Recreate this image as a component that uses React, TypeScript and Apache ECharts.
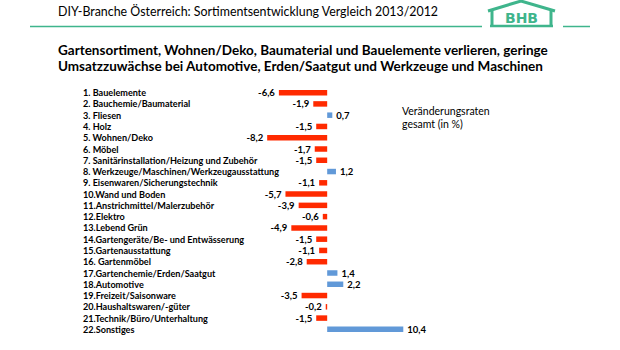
import React, { useEffect, useRef } from "react";
import * as echarts from "echarts";

const categories: string[] = [
  "1. Bauelemente",
  "2. Bauchemie/Baumaterial",
  "3. Fliesen",
  "4. Holz",
  "5. Wohnen/Deko",
  "6. Möbel",
  "7. Sanitärinstallation/Heizung und Zubehör",
  "8. Werkzeuge/Maschinen/Werkzeugausstattung",
  "9. Eisenwaren/Sicherungstechnik",
  "10.Wand und Boden",
  "11.Anstrichmittel/Malerzubehör",
  "12.Elektro",
  "13.Lebend Grün",
  "14.Gartengeräte/Be- und Entwässerung",
  "15.Gartenausstattung",
  "16. Gartenmöbel",
  "17.Gartenchemie/Erden/Saatgut",
  "18.Automotive",
  "19.Freizeit/Saisonware",
  "20.Haushaltswaren/-güter",
  "21.Technik/Büro/Unterhaltung",
  "22.Sonstiges",
];

const values: number[] = [
  -6.6, -1.9, 0.7, -1.5, -8.2, -1.7, -1.5, 1.2, -1.1, -5.7, -3.9, -0.6, -4.9,
  -1.5, -1.1, -2.8, 1.4, 2.2, -3.5, -0.2, -1.5, 10.4,
];

const title = "DIY-Branche Österreich: Sortimentsentwicklung Vergleich 2013/2012";
const subtitleLines = [
  "Gartensortiment, Wohnen/Deko, Baumaterial und Bauelemente verlieren, geringe",
  "Umsatzzuwächse bei Automotive, Erden/Saatgut und Werkzeuge und Maschinen",
];
const noteLines = ["Veränderungsraten", "gesamt (in %)"];

const RED = "#ff2a00";
const BLUE = "#6199d8";
const TEAL = "#3fb58c";
const FONT = "Lato, 'Open Sans', sans-serif";

export default function App() {
  const ref = useRef<HTMLDivElement>(null);
  useEffect(() => {
    if (!ref.current) return;
    const chart = echarts.init(ref.current, undefined, { renderer: "svg" });
    const fmt = (v: number) => v.toFixed(1).replace(".", ",");
    chart.setOption({
      animation: false,
      backgroundColor: "#ffffff",
      textStyle: { fontFamily: FONT },
      grid: { left: 254, width: 161, top: 87, height: 248 },
      xAxis: {
        type: "value",
        min: -10,
        max: 12,
        show: false,
      },
      yAxis: {
        type: "category",
        inverse: true,
        data: categories,
        axisLine: { show: false },
        axisTick: { show: false },
        splitLine: { show: false },
        axisLabel: {
          interval: 0,
          align: "left",
          margin: 171,
          fontSize: 9.1,
          fontWeight: "bold",
          color: "#000",
          fontFamily: FONT,
        },
      },
      series: [
        {
          type: "bar",
          barWidth: 5.5,
          data: values.map((v) => ({
            value: v,
            itemStyle: { color: v < 0 ? RED : BLUE },
            label: {
              show: true,
              position: v < 0 ? "left" : "right",
              distance: 4,
              formatter: () => fmt(v),
              fontSize: 9.5,
              fontWeight: "bold",
              color: "#000",
              fontFamily: FONT,
            },
          })),
        },
      ],
      graphic: [
        {
          type: "text",
          left: 58,
          top: 5,
          style: { text: title, fontSize: 12.4, fill: "#000", fontFamily: FONT },
        },
        {
          type: "line",
          shape: { x1: 30, y1: 26.5, x2: 482, y2: 26.5 },
          style: { stroke: TEAL, lineWidth: 1.5 },
        },
        {
          type: "line",
          shape: { x1: 563, y1: 26.5, x2: 590, y2: 26.5 },
          style: { stroke: TEAL, lineWidth: 1.5 },
        },
        {
          type: "polyline",
          shape: { points: [[488, 11], [521, 1], [555, 11]] },
          style: { stroke: TEAL, lineWidth: 3, fill: null },
        },
        {
          type: "line",
          shape: { x1: 492, y1: 11, x2: 492, y2: 27 },
          style: { stroke: TEAL, lineWidth: 3 },
        },
        {
          type: "line",
          shape: { x1: 551, y1: 11, x2: 551, y2: 27 },
          style: { stroke: TEAL, lineWidth: 3 },
        },
        {
          type: "line",
          shape: { x1: 490, y1: 26, x2: 553, y2: 26 },
          style: { stroke: TEAL, lineWidth: 2.5 },
        },
        {
          type: "text",
          x: 521.5,
          y: 18,
          style: {
            text: "BHB",
            fontSize: 14,
            fontWeight: "bold",
            fill: TEAL,
            fontFamily: "'DejaVu Sans', sans-serif",
            align: "center",
            verticalAlign: "middle",
          },
        },
        {
          type: "text",
          left: 58,
          top: 42,
          style: {
            text: subtitleLines.join("\n"),
            fontSize: 13.5,
            lineHeight: 16,
            fontWeight: "bold",
            fill: "#000",
            fontFamily: FONT,
          },
        },
        {
          type: "text",
          left: 402,
          top: 104,
          style: {
            text: noteLines.join("\n"),
            fontSize: 10.5,
            lineHeight: 13,
            fill: "#000",
            fontFamily: FONT,
          },
        },
      ],
    });
    return () => chart.dispose();
  }, []);
  return (
    <div
      ref={ref}
      style={{ position: "absolute", left: 0, top: 0, width: 620, height: 350 }}
    />
  );
}
